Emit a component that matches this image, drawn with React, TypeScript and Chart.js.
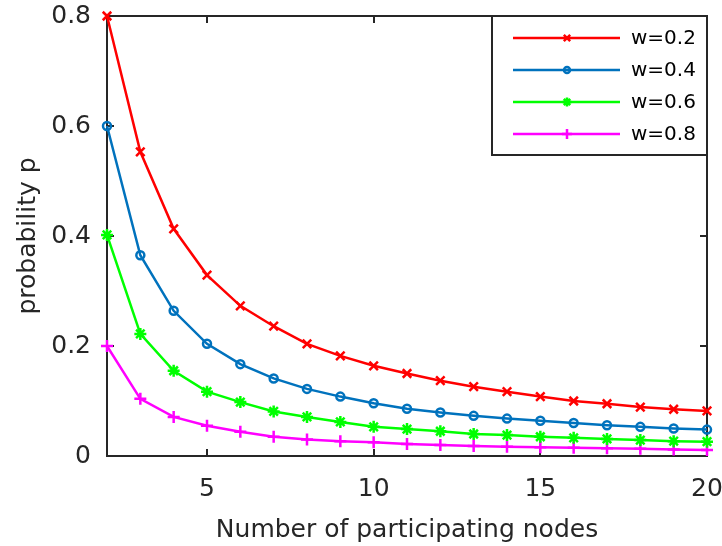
import React, { useEffect, useRef } from "react";
import { Chart, registerables } from "chart.js";
import { drawPoint } from "chart.js/helpers";

Chart.register(...registerables);

// ---------- data ----------
const nodes = [2, 3, 4, 5, 6, 7, 8, 9, 10, 11, 12, 13, 14, 15, 16, 17, 18, 19, 20];
const seriesLabels = ["w=0.2", "w=0.4", "w=0.6", "w=0.8"];
const pW02 = [0.8, 0.553, 0.413, 0.329, 0.273, 0.236, 0.204, 0.182, 0.164, 0.15, 0.137, 0.126, 0.117, 0.108, 0.1, 0.095, 0.089, 0.085, 0.082];
const pW04 = [0.6, 0.365, 0.264, 0.204, 0.167, 0.141, 0.122, 0.108, 0.096, 0.086, 0.079, 0.073, 0.068, 0.064, 0.06, 0.056, 0.053, 0.05, 0.048];
const pW06 = [0.402, 0.222, 0.155, 0.117, 0.098, 0.081, 0.071, 0.062, 0.053, 0.049, 0.045, 0.04, 0.038, 0.035, 0.033, 0.031, 0.029, 0.027, 0.026];
const pW08 = [0.2, 0.104, 0.071, 0.055, 0.044, 0.035, 0.03, 0.027, 0.025, 0.022, 0.02, 0.018, 0.017, 0.016, 0.015, 0.014, 0.013, 0.012, 0.011];
const xTicks = [5, 10, 15, 20];
const xTickLabels = ["5", "10", "15", "20"];
const yTicks = [0, 0.2, 0.4, 0.6, 0.8];
const yTickLabels = ["0", "0.2", "0.4", "0.6", "0.8"];
const xTitle = "Number of participating nodes";
const yTitle = "probability p";

// ---------- styles ----------
const colors = ["#ff0000", "#0072bd", "#00ff00", "#ff00ff"];
const markers = ["crossRot", "circle", "star", "cross"];
const markerRadius = [6, 4, 6, 6];
const legendMarkerRadius = [4.5, 3, 4.5, 5];
const FONT = "'DejaVu Sans', sans-serif";
const AXIS = "#262626";

const framePlugin = {
  id: "matlabFrame",
  beforeDatasetsDraw(chart: any) {
    const { ctx, chartArea } = chart;
    const { left, right, top, bottom } = chartArea;
    const xs = chart.scales.x;
    const ys = chart.scales.y;
    ctx.save();
    ctx.strokeStyle = AXIS;
    ctx.lineWidth = 2;
    ctx.strokeRect(left, top, right - left, bottom - top);
    const L = 7;
    ctx.beginPath();
    xs.ticks.forEach((t: any) => {
      const px = Math.round(xs.getPixelForValue(t.value));
      ctx.moveTo(px, bottom);
      ctx.lineTo(px, bottom - L);
      ctx.moveTo(px, top);
      ctx.lineTo(px, top + L);
    });
    ys.ticks.forEach((t: any) => {
      const py = Math.round(ys.getPixelForValue(t.value));
      ctx.moveTo(left, py);
      ctx.lineTo(left + L, py);
      ctx.moveTo(right, py);
      ctx.lineTo(right - L, py);
    });
    ctx.stroke();
    ctx.restore();
  },
  afterDatasetsDraw(chart: any) {
    const { ctx, chartArea } = chart;
    const boxW = 215;
    const boxH = 139;
    const bx = chartArea.right - boxW;
    const by = chartArea.top;
    ctx.save();
    ctx.fillStyle = "#ffffff";
    ctx.fillRect(bx, by, boxW, boxH);
    ctx.strokeStyle = AXIS;
    ctx.lineWidth = 2;
    ctx.strokeRect(bx, by, boxW, boxH);
    chart.data.datasets.forEach((ds: any, i: number) => {
      const y = by + 22 + i * 32;
      ctx.strokeStyle = ds.borderColor;
      ctx.lineWidth = 2.5;
      ctx.beginPath();
      ctx.moveTo(bx + 21, y);
      ctx.lineTo(bx + 128, y);
      ctx.stroke();
      ctx.fillStyle = "rgba(0,0,0,0)";
      ctx.strokeStyle = ds.borderColor;
      ctx.lineWidth = 2.5;
      drawPoint(ctx, { pointStyle: ds.pointStyle, radius: legendMarkerRadius[i], borderWidth: 2.5, rotation: 0 } as any, bx + 75, y);
      ctx.fillStyle = "#000000";
      ctx.font = `20px ${FONT}`;
      ctx.textAlign = "left";
      ctx.textBaseline = "middle";
      ctx.fillText(ds.label, bx + 139, y + 1);
    });
    ctx.restore();
  },
};

export default function App() {
  const canvasRef = useRef<HTMLCanvasElement | null>(null);

  useEffect(() => {
    const canvas = canvasRef.current;
    if (!canvas) return;
    const series = [pW02, pW04, pW06, pW08];
    const chart = new Chart(canvas, {
      type: "line",
      data: {
        labels: nodes,
        datasets: series.map((s, i) => ({
          label: seriesLabels[i],
          data: nodes.map((n, k) => ({ x: n, y: s[k] })),
          borderColor: colors[i],
          backgroundColor: "rgba(0,0,0,0)",
          borderWidth: 2.5,
          pointStyle: markers[i] as any,
          pointRadius: markerRadius[i],
          pointBorderWidth: 2.5,
          pointBorderColor: colors[i],
          pointBackgroundColor: "rgba(0,0,0,0)",
          pointHoverRadius: markerRadius[i],
          tension: 0,
          clip: false as any,
        })),
      },
      options: {
        animation: false,
        responsive: false,
        maintainAspectRatio: false,
        events: [],
        layout: { padding: { left: 0, right: 15, top: 16, bottom: 0 } },
        plugins: {
          legend: { display: false },
          tooltip: { enabled: false },
          title: { display: false },
        },
        scales: {
          x: {
            type: "linear",
            min: 2,
            max: 20,
            grid: { display: false, drawTicks: false },
            border: { display: false },
            afterBuildTicks: (scale: any) => {
              scale.ticks = xTicks.map((v) => ({ value: v }));
            },
            afterFit: (scale: any) => {
              scale.height = 90;
              scale.paddingLeft = 0;
              scale.paddingRight = 0;
            },
            ticks: {
              autoSkip: false,
              maxRotation: 0,
              padding: 18,
              color: AXIS,
              font: { family: FONT, size: 25 },
              callback: (v: any) => {
                const i = xTicks.indexOf(Number(v));
                return i >= 0 ? xTickLabels[i] : "";
              },
            },
            title: {
              display: true,
              text: xTitle,
              color: AXIS,
              font: { family: FONT, size: 25 },
              padding: { top: 0, bottom: 1 },
            },
          },
          y: {
            type: "linear",
            min: 0,
            max: 0.8,
            grid: { display: false, drawTicks: false },
            border: { display: false },
            afterBuildTicks: (scale: any) => {
              scale.ticks = yTicks.map((v) => ({ value: v }));
            },
            afterFit: (scale: any) => {
              scale.width = 107;
              scale.paddingTop = 0;
              scale.paddingBottom = 0;
            },
            ticks: {
              autoSkip: false,
              padding: 16,
              color: AXIS,
              font: { family: FONT, size: 25 },
              callback: (v: any) => {
                const i = yTicks.findIndex((t) => Math.abs(t - Number(v)) < 1e-9);
                return i >= 0 ? yTickLabels[i] : "";
              },
            },
            title: {
              display: true,
              text: yTitle,
              color: AXIS,
              font: { family: FONT, size: 25 },
              padding: { top: 13, bottom: 0 },
            },
          },
        },
      },
      plugins: [framePlugin],
    });
    return () => chart.destroy();
  }, []);

  return (
    <div style={{ position: "absolute", left: 0, top: 0, width: 722, height: 546, background: "#ffffff" }}>
      <canvas ref={canvasRef} width={722} height={546} style={{ display: "block" }} />
    </div>
  );
}
